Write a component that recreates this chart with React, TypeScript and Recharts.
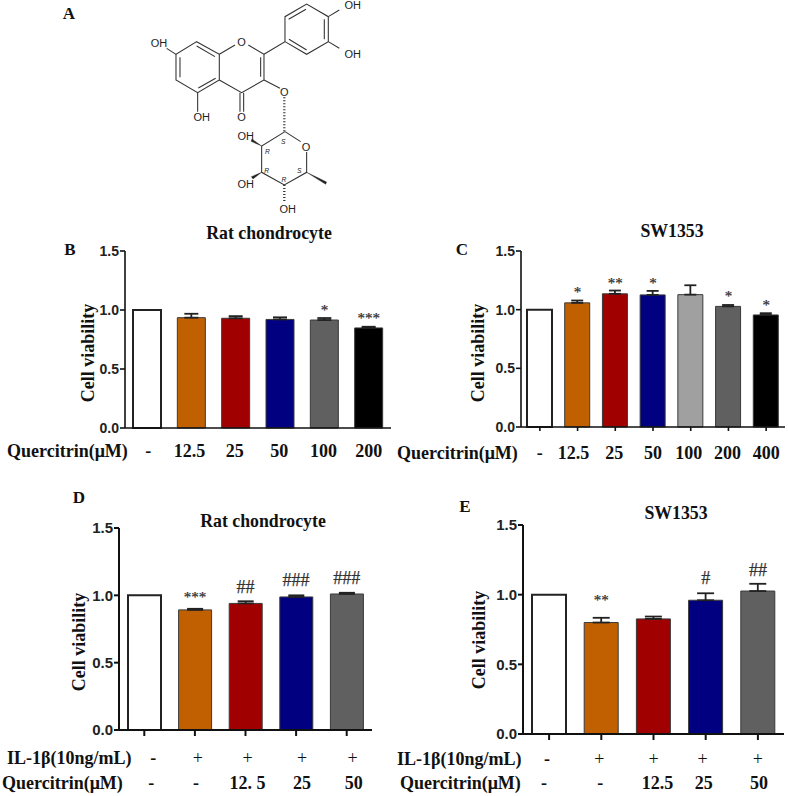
import React from "react";
import { ComposedChart, Bar, Line, Cell, XAxis, YAxis, ErrorBar, LabelList } from "recharts";

// ---------- data ----------
const WHITE = "#ffffff", ORANGE = "#c06000", RED = "#a00000", NAVY = "#000080", LIGHT = "#a0a0a0", GRAY = "#606060", BLACK = "#000000";

const bLabels = ["-", "12.5", "25", "50", "100", "200"];
const bValues = [1.0, 0.935, 0.93, 0.92, 0.915, 0.848];
const bErrors = [null, 0.033, 0.018, 0.018, 0.017, 0.01];
const bSig = ["", "", "", "", "*", "***"];
const bSigY = [null, null, null, null, 1.0, 0.93];
const bColors = [WHITE, ORANGE, RED, NAVY, GRAY, BLACK];

const cLabels = ["-", "12.5", "25", "50", "100", "200", "400"];
const cValues = [1.0, 1.058, 1.135, 1.126, 1.128, 1.028, 0.955];
const cErrors = [null, 0.02, 0.028, 0.034, 0.08, 0.012, 0.015];
const cSig = ["", "*", "**", "*", "", "*", "*"];
const cSigY = [null, 1.15, 1.23, 1.23, null, 1.12, 1.04];
const cColors = [WHITE, ORANGE, RED, NAVY, LIGHT, GRAY, BLACK];

const dIl1b = ["-", "+", "+", "+", "+"];
const dQuer = ["-", "-", "12. 5", "25", "50"];
const dValues = [1.0, 0.892, 0.94, 0.988, 1.01];
const dErrors = [null, 0.008, 0.016, 0.012, 0.009];
const dSig = ["", "***", "##", "###", "###"];
const dSigY = [null, 0.99, 1.065, 1.115, 1.13];
const dColors = [WHITE, ORANGE, RED, NAVY, GRAY];

const eIl1b = ["-", "+", "+", "+", "+"];
const eQuer = ["-", "-", "12.5", "25", "50"];
const eValues = [1.0, 0.8, 0.826, 0.96, 1.026];
const eErrors = [null, 0.034, 0.017, 0.05, 0.052];
const eSig = ["", "**", "", "#", "##"];
const eSigY = [null, 0.96, null, 1.12, 1.18];
const eColors = [WHITE, ORANGE, RED, NAVY, GRAY];

const yTicks = [0, 0.5, 1.0, 1.5];

// ---------- layout ----------
const SERIF = "'Liberation Serif', serif";
const SANS = "'Liberation Sans', sans-serif";

type Row = { labels: string[]; y: number; dx: number[] };

function SigLabel(p: any) {
  const v = p.value;
  if (!v) return null;
  const star = String(v).includes("*");
  return (
    <text x={p.x} y={p.y} textAnchor="middle" dominantBaseline="central" fontFamily={SERIF}
      fontSize={star ? 15 : 18} fill="#333" stroke="#333" strokeWidth={0.25}>{v}</text>
  );
}

function Panel(props: {
  axisX: number; top: number; bottom: number; right: number;
  values: number[]; errors: (number | null)[]; sig: string[]; sigY: (number | null)[]; colors: string[];
  rows: Row[]; barSize: number; capW: number; tickLen: number; tickFont: number; axisW: number;
}) {
  const { axisX, top, bottom, right, values, errors, sig, sigY, colors, rows, barSize, capW, tickLen, tickFont, axisW } = props;
  const LEFT = 50, TOP = 12, BELOW = 62;
  const data = values.map((v, i) => ({ idx: i, value: v, err: errors[i] == null ? null : [0, errors[i]], sig: sig[i], sigY: sigY[i] }));
  const baseY = TOP + bottom - top;
  const tick = (p: any) => {
    const i = p.index;
    return (
      <g>
        {rows.map((r, k) => (
          <text key={k} x={p.x + r.dx[i]} y={baseY + r.y} textAnchor="middle" dominantBaseline="central"
            fontFamily={SERIF} fontWeight={r.labels[i] === "+" ? 400 : 700} fontSize={18} fill="#111">
            {r.labels[i]}
          </text>
        ))}
      </g>
    );
  };
  return (
    <div style={{ position: "absolute", left: axisX - LEFT, top: top - TOP }}>
      <ComposedChart width={right - axisX + LEFT + 4} height={bottom - top + TOP + BELOW} data={data}
        margin={{ top: TOP, right: 4, bottom: 0, left: 0 }} barCategoryGap={0}>
        <XAxis dataKey="idx" type="category" axisLine={{ stroke: "#111", strokeWidth: axisW }}
          tickLine={tickLen > 0 ? { stroke: "#111", strokeWidth: axisW } : false} tickSize={tickLen} interval={0}
          height={BELOW} tick={tick} padding={{ left: 0, right: 0 }} />
        <YAxis width={LEFT} domain={[0, 1.5]} ticks={yTicks} tickFormatter={(v: number) => v.toFixed(1)}
          axisLine={{ stroke: "#111", strokeWidth: axisW }} tickLine={{ stroke: "#111", strokeWidth: axisW }} tickSize={5} tickMargin={1}
          tick={{ fontFamily: SANS, fontWeight: 700, fontSize: tickFont, fill: "#222" }} />
        <Bar dataKey="value" barSize={barSize} isAnimationActive={false}>
          {data.map((_, i) => (
            <Cell key={i} fill={colors[i]} stroke={colors[i] === WHITE ? "#222" : "#3a3a3a"} strokeWidth={colors[i] === WHITE ? 2 : 1} />
          ))}
          <ErrorBar dataKey="err" direction="y" width={capW} stroke="#222" strokeWidth={1.8} />
        </Bar>
        <Line dataKey="sigY" stroke="none" dot={false} activeDot={false} isAnimationActive={false} legendType="none">
          <LabelList dataKey="sig" content={SigLabel} />
        </Line>
      </ComposedChart>
    </div>
  );
}

function Txt(p: { x: number; y: number; size: number; children: React.ReactNode; rotate?: boolean; anchor?: "start" | "center" }) {
  const tf = p.anchor === "start" ? "translate(0,-50%)" : "translate(-50%,-50%)" + (p.rotate ? " rotate(-90deg)" : "");
  return (
    <div style={{ position: "absolute", left: p.x, top: p.y, transform: tf, fontFamily: SERIF, fontWeight: 700, fontSize: p.size, color: "#111", whiteSpace: "nowrap", lineHeight: 1 }}>
      {p.children}
    </div>
  );
}

// ---------- structure drawing of panel A ----------
const bonds = [
  "M440 125L508 163L508 240L443 278L378 240L378 163Z",
  "M440 138L495 170M390 172L390 232M445 264L497 235",
  "M378 163L350 145M443 278L443 335",
  "M508 163L555 135M595 135L642 163L642 240L575 278L508 240M632 172L632 230",
  "M570 278L570 335M581 278L581 335",
  "M642 240L690 265",
  "M642 163L705 125L705 50L770 12L835 50L835 125L770 163L705 125",
  "M716 58L768 28M823 58L823 118M770 150L717 118",
  "M835 50L868 30M835 125L868 145",
  "M705 395L752 425M770 456L770 517L703 555L635 517L635 438L705 395",
];
const hashes = ["M703 292L703 395", "M703 555L703 608"];
const wedges = ["M770 517L830 546L827 553Z", "M635 438L606 417L603 424Z", "M635 517L604 530L609 537Z"];
const atoms: [string, number, number][] = [
  ["OH", 327, 128], ["OH", 455, 350], ["O", 575, 125], ["O", 575, 350], ["O", 703, 275], ["OH", 908, 15], ["OH", 908, 162],
  ["O", 768, 440], ["OH", 587, 407], ["OH", 587, 553], ["OH", 713, 627],
];
const stereo: [string, number, number][] = [["S", 700, 426], ["R", 652, 455], ["R", 650, 512], ["S", 748, 512], ["R", 702, 540]];

function Molecule() {
  return (
    <svg width={350} height={220} style={{ position: "absolute", left: 50, top: 0 }}>
      <g transform="scale(0.3333)">
        {bonds.map((d, i) => <path key={i} d={d} fill="none" stroke="#333" strokeWidth={3.2} />)}
        {hashes.map((d, i) => <path key={i} d={d} fill="none" stroke="#333" strokeWidth={7} strokeDasharray="3 6" />)}
        {wedges.map((d, i) => <path key={i} d={d} fill="#222" stroke="#222" />)}
        {atoms.map(([t, x, y], i) => (
          <text key={i} x={x} y={y} textAnchor="middle" dominantBaseline="central" fontFamily={SANS} fontSize={33} fill="#222">{t}</text>
        ))}
        {stereo.map(([t, x, y], i) => (
          <text key={i} x={x} y={y} textAnchor="middle" dominantBaseline="central" fontFamily={SANS} fontStyle="italic" fontSize={20} fill="#222">{t}</text>
        ))}
      </g>
    </svg>
  );
}

export default function App() {
  return (
    <div style={{ position: "absolute", left: 0, top: 0, width: 788, height: 796, background: "#fff", overflow: "hidden" }}>
      <Molecule />
      <Txt x={69} y={13} size={17}>A</Txt>
      <Txt x={70} y={249} size={17}>B</Txt>
      <Txt x={462} y={249} size={17}>C</Txt>
      <Txt x={79} y={497} size={17}>D</Txt>
      <Txt x={465} y={506} size={17}>E</Txt>

      <Txt x={269} y={234} size={17.8}>Rat chondrocyte</Txt>
      <Txt x={672} y={232} size={17.8}>SW1353</Txt>
      <Txt x={263} y={522} size={17.8}>Rat chondrocyte</Txt>
      <Txt x={676} y={514} size={17.8}>SW1353</Txt>

      <Panel axisX={125} top={251} bottom={428} right={391} values={bValues} errors={bErrors} sig={bSig} sigY={bSigY} colors={bColors}
        rows={[{ labels: bLabels, y: 23, dx: [1, -2, -1, -1, -1, 0] }]} barSize={28} capW={7} tickLen={0} tickFont={14} axisW={1.6} />
      <Panel axisX={521} top={251} bottom={427} right={785} values={cValues} errors={cErrors} sig={cSig} sigY={cSigY} colors={cColors}
        rows={[{ labels: cLabels, y: 26, dx: [0, -4, -1, 0, -2, -1, 0] }]} barSize={25} capW={6} tickLen={4} tickFont={14} axisW={1.6} />
      <Panel axisX={119} top={528} bottom={730} right={372} values={dValues} errors={dErrors} sig={dSig} sigY={dSigY} colors={dColors}
        rows={[{ labels: dIl1b, y: 28, dx: [9, 3, 2, 6, 6] }, { labels: dQuer, y: 53, dx: [7, 1, 2, 6, 7] }]} barSize={33} capW={8} tickLen={6} tickFont={15} axisW={2} />
      <Panel axisX={523} top={525} bottom={734} right={784} values={eValues} errors={eErrors} sig={eSig} sigY={eSigY} colors={eColors}
        rows={[{ labels: eIl1b, y: 25, dx: [-2, -2, 0, -3, 0] }, { labels: eQuer, y: 49, dx: [-5, -1, 4, -2, 1] }]} barSize={34} capW={8.5} tickLen={6} tickFont={15} axisW={2} />

      <Txt x={88} y={353} size={18} rotate>Cell viability</Txt>
      <Txt x={478} y={353} size={18} rotate>Cell viability</Txt>
      <Txt x={79} y={642} size={18} rotate>Cell viability</Txt>
      <Txt x={479} y={640} size={18} rotate>Cell viability</Txt>

      <Txt x={7} y={451} size={18} anchor="start">Quercitrin(μM)</Txt>
      <Txt x={397} y={453} size={18} anchor="start">Quercitrin(μM)</Txt>
      <Txt x={7} y={758} size={18} anchor="start">IL-1β(10ng/mL)</Txt>
      <Txt x={2} y={783} size={18} anchor="start">Quercitrin(μM)</Txt>
      <Txt x={397} y={759} size={18} anchor="start">IL-1β(10ng/mL)</Txt>
      <Txt x={400} y={783} size={18} anchor="start">Quercitrin(μM)</Txt>
    </div>
  );
}
